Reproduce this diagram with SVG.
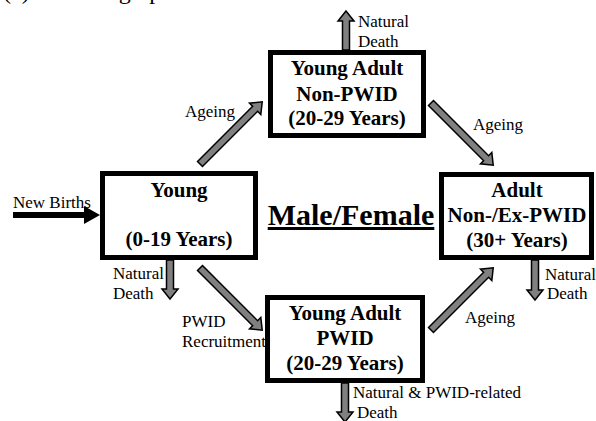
<svg xmlns="http://www.w3.org/2000/svg" width="596" height="421" viewBox="0 0 596 421">
<style>
text{font-family:"Liberation Serif","Times New Roman",serif;fill:#000}
.box{fill:#fff;stroke:#000;stroke-width:5}
.bt{font-size:21px;font-weight:bold;text-anchor:middle}
.lb{font-size:17px}
.ga{fill:#808080;stroke:#000;stroke-width:1.5;stroke-linejoin:miter}
</style>
<text x="3" y="-1" style="font-size:24px">(a)</text>
<text x="60" y="-1" style="font-size:24px">Demographic</text>
<g id="connectors">
<path class="ga" d="M0,-3.5H78V-8L88,0L78,8V3.5H0Z" transform="translate(200,164) rotate(-45)"/>
<path class="ga" d="M0,-3.5H78V-8L88,0L78,8V3.5H0Z" transform="translate(431,103) rotate(45)"/>
<path class="ga" d="M0,-3.5H78V-8L88,0L78,8V3.5H0Z" transform="translate(200,268) rotate(45)"/>
<path class="ga" d="M0,-3.5H78V-8L88,0L78,8V3.5H0Z" transform="translate(431,330) rotate(-45)"/>
<path class="ga" d="M0,-3.5H29V-8L39,0L29,8V3.5H0Z" transform="translate(346,50) rotate(-90)"/>
<path class="ga" d="M0,-3.5H29V-8L39,0L29,8V3.5H0Z" transform="translate(170,260) rotate(90)"/>
<path class="ga" d="M0,-3.5H30V-8L40,0L30,8V3.5H0Z" transform="translate(535,260) rotate(90)"/>
<path class="ga" d="M0,-3.5H29V-8L39,0L29,8V3.5H0Z" transform="translate(345,383) rotate(90)"/>
<path d="M13,212H84V206L100,215L84,224V218H13Z" fill="#000"/>
<text class="lb" x="185" y="117">Ageing</text>
<text class="lb" x="473" y="130">Ageing</text>
<text class="lb" x="465" y="323">Ageing</text>
<text class="lb" x="358" y="27">Natural</text>
<text class="lb" x="358" y="47">Death</text>
<text class="lb" x="13" y="208">New Births</text>
<text class="lb" x="113" y="279">Natural</text>
<text class="lb" x="113" y="299">Death</text>
<text class="lb" x="182" y="327">PWID</text>
<text class="lb" x="182" y="347">Recruitment</text>
<text class="lb" x="545" y="280">Natural</text>
<text class="lb" x="547" y="299">Death</text>
<text class="lb" x="353" y="398">Natural &amp; PWID-related</text>
<text class="lb" x="357" y="418">Death</text>
</g>
<g id="young">
<rect class="box" x="102.5" y="173.5" width="153" height="84"/>
<text class="bt" x="179" y="197">Young</text>
<text class="bt" x="179" y="246">(0-19 Years)</text>
</g>
<g id="young-adult-non-pwid">
<rect class="box" x="270.5" y="52.5" width="153" height="83"/>
<text class="bt" x="347" y="75">Young Adult</text>
<text class="bt" x="347" y="101">Non-PWID</text>
<text class="bt" x="347" y="125">(20-29 Years)</text>
</g>
<g id="adult">
<rect class="box" x="441.5" y="174.5" width="150" height="83"/>
<text class="bt" x="517" y="197">Adult</text>
<text class="bt" x="517" y="222">Non-/Ex-PWID</text>
<text class="bt" x="517" y="247">(30+ Years)</text>
</g>
<g id="young-adult-pwid">
<rect class="box" x="267.5" y="297.5" width="155" height="83"/>
<text class="bt" x="345" y="320">Young Adult</text>
<text class="bt" x="345" y="345">PWID</text>
<text class="bt" x="345" y="370">(20-29 Years)</text>
</g>
<g id="title">
<text x="351" y="225" style="font-size:30px;font-weight:bold;text-anchor:middle;text-decoration:underline">Male/Female</text>
</g>
</svg>
